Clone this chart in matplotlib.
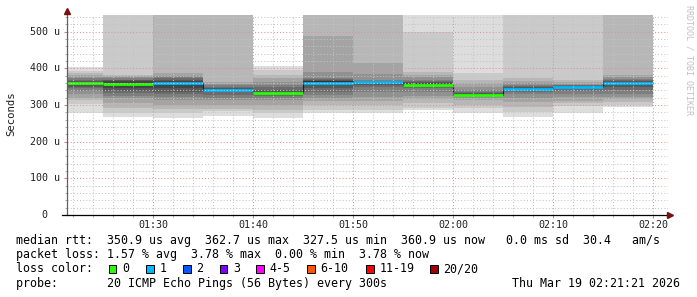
import matplotlib
matplotlib.use('Agg')
import matplotlib.pyplot as plt
from matplotlib.patches import Rectangle
from matplotlib import transforms

plt.rcParams['font.family'] = 'DejaVu Sans Mono'
plt.rcParams['lines.scale_dashes'] = False

# ---- data (times in minutes after midnight, rtt in microseconds) ----
step_start = [80, 85, 90, 95, 100, 105, 110, 115, 120, 125, 130, 135]
step_len = 5
median = [360, 356, 359, 340, 332, 361, 362.7, 355, 327.5, 342, 349, 360.9]
loss = [0, 0, 1, 1, 0, 1, 1, 0, 0, 1, 1, 1]   # lost pings per step

# 20 sorted ping values for each step (600 = off the top of the chart)
pings = [
    [278, 302, 313, 320, 330, 338, 345, 350, 355, 359, 361, 363, 365, 368, 372, 376, 381, 386, 393, 403],
    [266, 278, 292, 305, 318, 325, 332, 339, 345, 351, 361, 364, 367, 369, 372, 375, 378, 381, 600, 600],
    [265, 279, 290, 300, 313, 322, 330, 336, 345, 355, 363, 366, 369, 372, 376, 380, 386, 600, 600, 600],
    [270, 283, 290, 300, 313, 320, 328, 334, 338, 339, 341, 343, 345, 349, 353, 358, 363, 600, 600, 600],
    [265, 277, 286, 300, 313, 318, 324, 328, 330, 331, 333, 336, 340, 348, 355, 363, 372, 381, 395, 405],
    [277, 286, 300, 310, 320, 327, 335, 345, 354, 358, 364, 366, 368, 370, 372, 390, 488, 600, 600, 600],
    [277, 286, 300, 312, 322, 335, 348, 354, 358, 362.4, 363, 364, 365, 366, 368, 384, 415, 600, 600, 600],
    [286, 291, 304, 315, 325, 335, 345, 348, 351, 353, 357, 360, 362, 365, 368, 375, 382, 390, 500, 600],
    [277, 291, 300, 313, 318, 322, 325, 327, 327, 327, 328, 329, 332, 336, 340, 350, 360, 368, 387, 600],
    [268, 282, 295, 309, 320, 330, 335, 338, 340, 341, 343, 345, 348, 352, 355, 359, 365, 372, 600, 600],
    [277, 297, 305, 312, 322, 330, 338, 343, 346, 348, 350, 351, 352, 353, 354, 358, 362, 368, 600, 600],
    [293, 300, 309, 315, 322, 330, 340, 348, 354, 359, 362.8, 363, 365, 368, 370, 375, 381, 600, 600, 600],
]

loss_colors = ['#26ff00', '#00b8ff', '#0059ff', '#7e00ff', '#ff00ff', '#ff5500', '#ff0000', '#a00000']
loss_labels = ['0', '1', '2', '3', '4-5', '6-10', '11-19', '20/20']

xticks = [90, 100, 110, 120, 130, 140]
xticklabels = ['01:30', '01:40', '01:50', '02:00', '02:10', '02:20']
yticks = [0, 100, 200, 300, 400, 500]
yticklabels = ['0', '100 u', '200 u', '300 u', '400 u', '500 u']

W, H = 697, 297
fig = plt.figure(figsize=(W / 100, H / 100), dpi=100, facecolor='white')
ax = fig.add_axes([67 / W, (H - 215) / H, (668 - 67) / W, 200 / H])
ax.set_xlim(81.4, 141.5)
ax.set_ylim(0, 545)

# smoke: outer pairs light, inner pairs dark
for i, t0 in enumerate(step_start):
    p = pings[i]
    for k in range(10):
        g = int(190 / 10 * (10 - k - 1)) + 50
        ax.fill_between([t0, t0 + step_len], p[k], p[19 - k], color=(g / 255,) * 3,
                        lw=0, zorder=1)

# median line + loss colour
ax.plot(step_start + [step_start[-1] + step_len], median + [median[-1]],
        drawstyle='steps-post', color='#202020', lw=0.8, zorder=2)
for i, t0 in enumerate(step_start):
    ax.hlines(median[i], t0, t0 + step_len, colors=loss_colors[loss[i]], lw=2.0, zorder=2.2)

# grid (drawn over the smoke, like rrdtool)
ax.set_axisbelow(False)
ax.set_xticks(xticks)
ax.set_xticks(range(82, 142, 2), minor=True)
ax.set_yticks(yticks)
ax.set_yticks(range(0, 545, 20), minor=True)
ax.grid(which='minor', color='#c4c4c4', lw=0.75, linestyle=(0, (0.75, 1.5)))
ax.grid(which='major', color='#e39090', lw=0.75, linestyle=(0, (0.75, 1.5)))
ax.tick_params(which='both', labelbottom=False, labelleft=False, direction='out')
ax.tick_params(which='major', length=2.2, width=0.75, color='#d08080')
ax.tick_params(which='minor', length=1.5, width=0.75, color='#b0b0b0')
for s in ax.spines.values():
    s.set_visible(False)

# axes lines with arrows
ax.plot([0, 0], [0, 1.015], transform=ax.transAxes, color='#606060', lw=0.9, clip_on=False, zorder=6)
ax.plot([-0.008, 1.0], [0, 0], transform=ax.transAxes, color='black', lw=0.9, clip_on=False, zorder=6)
ax.plot([0], [1.022], marker='^', ms=4.5, color='#7a1010', transform=ax.transAxes, clip_on=False, zorder=7)
ax.plot([1.004], [0], marker='>', ms=4.5, color='#7a1010', transform=ax.transAxes, clip_on=False, zorder=7)

# tick labels
tx = transforms.blended_transform_factory(ax.transData, fig.transFigure)
for x, lab in zip(xticks, xticklabels):
    fig.text(x, 1 - 228.3 / H, lab, transform=tx, ha='center', va='baseline', fontsize=7.2, color='#202020')
ty = transforms.blended_transform_factory(fig.transFigure, ax.transData)
for y, lab in zip(yticks, yticklabels):
    xr = 47.5 if lab == '0' else 59.5
    fig.text(xr / W, y, lab, transform=ty, ha='right', va='center', fontsize=7.2, color='#202020')

fig.text(11 / W, 1 - 114 / H, 'Seconds', rotation=90, ha='center', va='center', fontsize=7.7, color='#202020')
fig.text(688.5 / W, 1 - 5 / H, 'RRDTOOL / TOBI OETIKER', rotation=270, ha='center', va='top',
         fontsize=6, color='#c0c0c0')

# legend text
fs = 8.4
fig.text(16 / W, 1 - 244.3 / H,
         'median rtt:  350.9 us avg  362.7 us max  327.5 us min  360.9 us now   0.0 ms sd  30.4   am/s',
         ha='left', va='baseline', fontsize=fs, color='black')
fig.text(16 / W, 1 - 258.3 / H, 'packet loss: 1.57 % avg  3.78 % max  0.00 % min  3.78 % now',
         ha='left', va='baseline', fontsize=fs, color='black')
fig.text(16 / W, 1 - 272.5 / H, 'loss color:', ha='left', va='baseline', fontsize=fs, color='black')
box_x = [108.5, 146, 183, 219.5, 256, 307, 366, 430]
for bx, c, lab in zip(box_x, loss_colors, loss_labels):
    fig.add_artist(Rectangle((bx / W, 1 - 272.8 / H), 7.5 / W, 7.5 / H, transform=fig.transFigure,
                             facecolor=c, edgecolor='black', lw=0.7))
    fig.text((bx + 13.5) / W, 1 - 272.5 / H, lab, ha='left', va='baseline', fontsize=fs, color='black')
fig.text(16 / W, 1 - 286.6 / H, 'probe:       20 ICMP Echo Pings (56 Bytes) every 300s',
         ha='left', va='baseline', fontsize=fs, color='black')
fig.text(680 / W, 1 - 286.6 / H, 'Thu Mar 19 02:21:21 2026', ha='right', va='baseline', fontsize=fs, color='black')

fig.savefig('out.png', dpi=100, facecolor='white')
